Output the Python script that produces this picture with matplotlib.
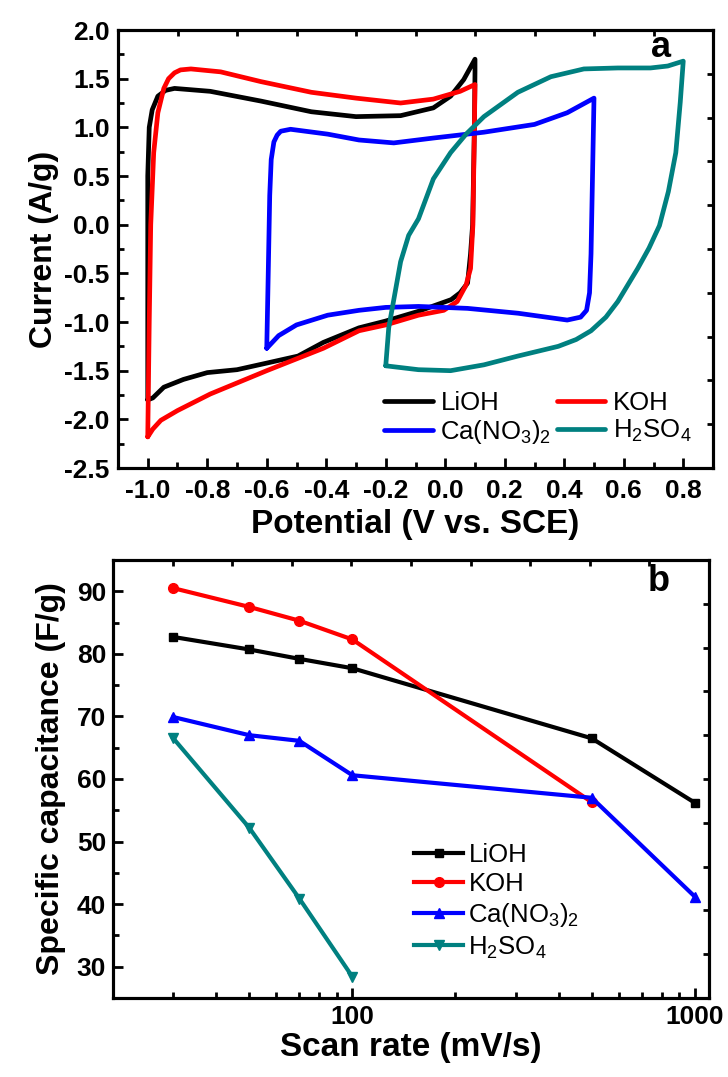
import numpy as np
import matplotlib.pyplot as plt
from matplotlib.ticker import MultipleLocator, LogLocator, NullFormatter

plt.rcParams['font.family'] = ['Liberation Sans', 'DejaVu Sans']
plt.rcParams['mathtext.default'] = 'regular'

# ---- panel a: CV curves (potential V vs SCE, current A/g)
lioh_v = [-1.0, -1.0, -0.995, -0.985, -0.966, -0.94, -0.91, -0.79, -0.62, -0.45, -0.30, -0.15, -0.04, 0.018, 0.062, 0.10,
          0.10, 0.098, 0.092, 0.085, 0.075, 0.05, 0.02, -0.09, -0.2, -0.29, -0.41, -0.495, -0.597, -0.70, -0.80, -0.88,
          -0.946, -0.983, -1.0]
lioh_i = [-1.80, 0.5, 1.0, 1.18, 1.32, 1.38, 1.40, 1.37, 1.27, 1.16, 1.11, 1.12, 1.20, 1.32, 1.49, 1.70,
          1.58, 1.0, 0.0, -0.3, -0.6, -0.70, -0.77, -0.89, -0.99, -1.06, -1.21, -1.35, -1.42, -1.49, -1.52, -1.59,
          -1.67, -1.78, -1.80]

koh_v = [-1.0, -0.995, -0.99, -0.98, -0.966, -0.946, -0.93, -0.91, -0.89, -0.855, -0.755, -0.62, -0.45, -0.30, -0.15,
         -0.04, 0.05, 0.10,
         0.098, 0.093, 0.085, 0.07, 0.04, -0.005, -0.09, -0.2, -0.29, -0.41, -0.6, -0.79, -0.9, -0.956, -0.983, -1.0]
koh_i = [-2.18, -1.0, 0.0, 0.74, 1.15, 1.40, 1.50, 1.56, 1.59, 1.60, 1.57, 1.47, 1.36, 1.30, 1.25,
         1.29, 1.37, 1.44,
         1.0, 0.0, -0.45, -0.62, -0.79, -0.88, -0.93, -1.03, -1.09, -1.27, -1.50, -1.74, -1.91, -2.01, -2.10, -2.18]

ca_v = [-0.6, -0.595, -0.59, -0.585, -0.576, -0.565, -0.553, -0.52, -0.395, -0.29, -0.173, -0.04, 0.13, 0.30, 0.41, 0.50,
        0.495, 0.49, 0.485, 0.475, 0.455, 0.41, 0.245, 0.075, -0.09, -0.2, -0.29, -0.395, -0.5, -0.56, -0.6]
ca_i = [-1.27, -0.5, 0.3, 0.67, 0.85, 0.92, 0.96, 0.98, 0.93, 0.87, 0.84, 0.89, 0.95, 1.03, 1.15, 1.30,
        0.5, -0.3, -0.7, -0.88, -0.95, -0.98, -0.91, -0.86, -0.84, -0.85, -0.88, -0.93, -1.03, -1.14, -1.27]

h2so4_v = [-0.2, -0.19, -0.17, -0.15, -0.123, -0.09, -0.04, 0.018, 0.07, 0.13, 0.244, 0.355, 0.466, 0.58, 0.69, 0.748,
           0.80,
           0.79, 0.775, 0.75, 0.72, 0.685, 0.647, 0.58, 0.54, 0.49, 0.44, 0.38, 0.244, 0.13, 0.018, -0.09, -0.2]
h2so4_i = [-1.45, -1.06, -0.72, -0.38, -0.11, 0.06, 0.47, 0.74, 0.93, 1.11, 1.36, 1.52, 1.60, 1.61, 1.61, 1.63,
           1.68,
           1.26, 0.74, 0.34, -0.01, -0.24, -0.45, -0.79, -0.95, -1.09, -1.18, -1.25, -1.35, -1.44, -1.50, -1.49, -1.45]

# ---- panel b: specific capacitance vs scan rate
rate_all = [30, 50, 70, 100, 500, 1000]
cap_lioh = [82.7, 80.7, 79.2, 77.7, 66.5, 56.2]
rate_koh = [30, 50, 70, 100, 500]
cap_koh = [90.5, 87.5, 85.3, 82.3, 56.3]
cap_ca = [69.9, 67.0, 66.1, 60.6, 57.0, 41.2]
rate_h2so4 = [30, 50, 70, 100]
cap_h2so4 = [66.5, 52.2, 40.9, 28.4]

labels = ['LiOH', 'KOH', 'Ca(NO$_3$)$_2$', 'H$_2$SO$_4$']
colors = ['black', '#ff0000', '#0000ff', '#008080']

fig = plt.figure(figsize=(7.28, 10.77), dpi=100)
ax1 = fig.add_axes([118 / 728, 1 - 468 / 1077, 595 / 728, 438 / 1077])
ax2 = fig.add_axes([113 / 728, 1 - 998 / 1077, 596 / 728, 438 / 1077])


def style_axes(ax):
    for s in ax.spines.values():
        s.set_linewidth(2.2)
    ax.tick_params(which='major', direction='in', length=7, width=2, labelsize=19, top=False, right=False)
    ax.tick_params(which='minor', direction='in', length=4, width=2, top=False, right=False)
    for t in ax.get_xticklabels() + ax.get_yticklabels():
        t.set_fontweight('bold')
    # origin-style mirrored axes: 10 equal divisions, no labels
    tx = ax.twiny()
    tx.set_xlim(0, 10)
    tx.set_xticks(range(1, 10))
    tx.tick_params(direction='in', length=4, width=2, labeltop=False)
    ty = tx.twinx()
    ty.set_ylim(0, 10)
    ty.set_yticks(range(1, 10))
    ty.tick_params(direction='in', length=4, width=2, labelright=False)
    for a in (tx, ty):
        for s in a.spines.values():
            s.set_linewidth(2.2)


# panel a
lines = []
for v, i, lab, c in zip([lioh_v, koh_v, ca_v, h2so4_v], [lioh_i, koh_i, ca_i, h2so4_i], labels, colors):
    ln, = ax1.plot(v, i, color=c, lw=3.4, label=lab, solid_joinstyle='round', solid_capstyle='round')
    lines.append(ln)
ax1.set_xlim(-1.1, 0.9)
ax1.set_ylim(-2.5, 2.0)
ax1.xaxis.set_major_locator(MultipleLocator(0.2))
ax1.xaxis.set_minor_locator(MultipleLocator(0.1))
ax1.yaxis.set_major_locator(MultipleLocator(0.5))
ax1.yaxis.set_minor_locator(MultipleLocator(0.25))
ax1.xaxis.set_major_formatter(plt.FuncFormatter(lambda x, p: f'{x:.1f}'))
ax1.yaxis.set_major_formatter(plt.FuncFormatter(lambda x, p: f'{x:.1f}'))
ax1.tick_params(axis='x', pad=8)
ax1.tick_params(axis='y', pad=6)
ax1.set_xlabel('Potential (V vs. SCE)', fontsize=24, fontweight='bold', labelpad=4)
ax1.set_ylabel('Current (A/g)', fontsize=23, fontweight='bold', labelpad=4)
style_axes(ax1)
# row order: LiOH, KOH / Ca(NO3)2, H2SO4
order = [0, 2, 1, 3]
ax1.legend([lines[k] for k in order], [labels[k] for k in order], loc='lower right', bbox_to_anchor=(0.99, 0.015),
           ncol=2, frameon=False, fontsize=18.5, handlelength=1.9, handletextpad=0.3, columnspacing=0.2,
           labelspacing=0.1, borderpad=0.1)
ax1.text(0.913, 0.96, 'a', transform=ax1.transAxes, fontsize=26, fontweight='bold', ha='center', va='center')

# panel b
ax2.plot(rate_all, cap_lioh, color=colors[0], lw=3, marker='s', ms=6, label=labels[0])
ax2.plot(rate_koh, cap_koh, color=colors[1], lw=3, marker='o', ms=7, label=labels[1])
ax2.plot(rate_all, cap_ca, color=colors[2], lw=3, marker='^', ms=7, label=labels[2])
ax2.plot(rate_h2so4, cap_h2so4, color=colors[3], lw=3, marker='v', ms=7, label=labels[3])
ax2.set_xscale('log')
ax2.set_xlim(20, 1100)
ax2.set_ylim(25, 95)
ax2.xaxis.set_major_locator(LogLocator(base=10))
ax2.xaxis.set_minor_locator(LogLocator(base=10, subs=np.arange(2, 10)))
ax2.xaxis.set_minor_formatter(NullFormatter())
ax2.xaxis.set_major_formatter(plt.FuncFormatter(lambda x, p: f'{x:.0f}'))
ax2.yaxis.set_major_locator(MultipleLocator(10))
ax2.yaxis.set_minor_locator(MultipleLocator(5))
ax2.tick_params(axis='x', pad=5)
ax2.tick_params(axis='y', pad=5)
ax2.set_xlabel('Scan rate (mV/s)', fontsize=24, fontweight='bold', labelpad=2)
ax2.set_ylabel('Specific capacitance (F/g)', fontsize=23, fontweight='bold', labelpad=8)
style_axes(ax2)
ax2.legend(loc='lower left', bbox_to_anchor=(0.48, 0.05), frameon=False, fontsize=18.5,
           handlelength=1.9, handletextpad=0.2, labelspacing=0.2, borderpad=0.1)
ax2.text(0.916, 0.95, 'b', transform=ax2.transAxes, fontsize=26, fontweight='bold', ha='center', va='center')

fig.savefig('out.png', dpi=100)
